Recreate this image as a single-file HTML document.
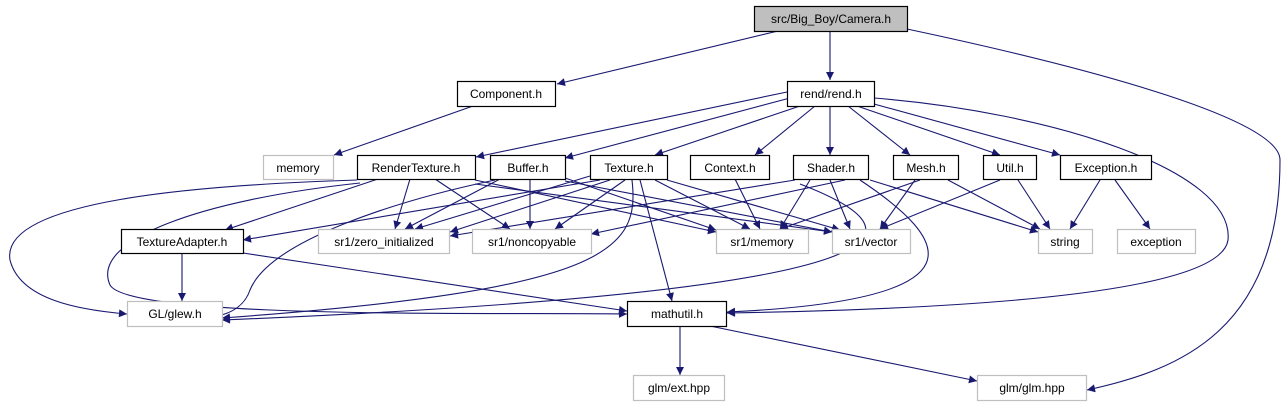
<!DOCTYPE html>
<html><head><meta charset="utf-8"><style>
html,body{margin:0;padding:0;background:#fff;}
svg{display:block;}
text{font-family:"Liberation Sans",Arial,sans-serif;font-size:12px;fill:#000;}
.n{fill:#fff;stroke:#000;stroke-width:1.2}
.g{fill:#fff;stroke:#bfbfbf;stroke-width:1.2}
.e{fill:none;stroke:#191970;stroke-width:1.1}
</style></head><body>
<svg width="1288" height="411" viewBox="0 0 1288 411">
<defs><marker id="a" viewBox="0 0 10 10" refX="10" refY="5" markerWidth="10" markerHeight="8" orient="auto" markerUnits="userSpaceOnUse"><path d="M0,0L10,5L0,10z" fill="#191970"/></marker></defs>
<g class="e" marker-end="url(#a)">
<path d="M778,31L557,84"/>
<path d="M830,31L830,80"/>
<path d="M907,29C1100,70 1280,120 1280,160 C1280,330 1180,370 1087,390"/>
<path d="M473,106L334,155"/>
<path d="M787,92L476,157"/>
<path d="M790,98L565,158"/>
<path d="M800,106L655,155"/>
<path d="M815,106L755,155"/>
<path d="M830,106L830,155"/>
<path d="M848,106L910,155"/>
<path d="M857,106L1000,155"/>
<path d="M874,104L1060,155"/>
<path d="M874,98C1050,112 1235,170 1228,240 C1220,300 900,310 727,313"/>
<path d="M378,179L225,230"/>
<path d="M410,179L395,229"/>
<path d="M435,179L510,229"/>
<path d="M475,180L716,232"/>
<path d="M475,184L832,232"/>
<path d="M357,180C200,185 0,200 10,260 C20,300 80,310 127,314"/>
<path d="M360,183C200,200 90,240 110,285 C130,320 500,312 627,314"/>
<path d="M500,179L405,229"/>
<path d="M530,179L530,229"/>
<path d="M565,178L716,230"/>
<path d="M565,181L832,232"/>
<path d="M495,180C400,200 270,240 250,290 C240,320 200,316 222,316"/>
<path d="M600,180L243,240"/>
<path d="M590,176L415,229"/>
<path d="M610,180L450,232"/>
<path d="M625,180L555,229"/>
<path d="M655,180L750,229"/>
<path d="M667,180L840,230"/>
<path d="M640,180L672,301"/>
<path d="M632,180C640,250 610,290 222,318"/>
<path d="M735,179L760,229"/>
<path d="M795,180L450,236"/>
<path d="M810,180L780,229"/>
<path d="M830,180L850,229"/>
<path d="M845,180L591,234"/>
<path d="M860,180C950,240 990,300 727,312"/>
<path d="M800,184C920,230 950,290 222,320"/>
<path d="M870,180L1038,232"/>
<path d="M920,180L780,229"/>
<path d="M915,180L880,229"/>
<path d="M948,180L1040,229"/>
<path d="M1000,180L880,229"/>
<path d="M1018,180L1050,229"/>
<path d="M1100,180L1070,229"/>
<path d="M1115,180L1150,229"/>
<path d="M182,254L182,301"/>
<path d="M243,253L627,311"/>
<path d="M680,326L680,375"/>
<path d="M710,326L977,381"/>
</g>
<g>
<rect x="754.5" y="6.5" width="153" height="25" fill="#bfbfbf" stroke="#000" stroke-width="1.2"/><text x="831" y="23" text-anchor="middle">src/Big_Boy/Camera.h</text>
<rect class="n" x="457.5" y="81.5" width="98" height="25"/><text x="506" y="98" text-anchor="middle">Component.h</text>
<rect class="n" x="787.5" y="81.5" width="87" height="25"/><text x="831" y="98" text-anchor="middle">rend/rend.h</text>
<rect class="g" x="263.5" y="155.5" width="70" height="24"/><text x="298" y="172" text-anchor="middle">memory</text>
<rect class="n" x="357.5" y="155.5" width="118" height="24"/><text x="416" y="172" text-anchor="middle">RenderTexture.h</text>
<rect class="n" x="490.5" y="155.5" width="75" height="24"/><text x="528" y="172" text-anchor="middle">Buffer.h</text>
<rect class="n" x="590.5" y="155.5" width="77" height="24"/><text x="629" y="172" text-anchor="middle">Texture.h</text>
<rect class="n" x="690.5" y="155.5" width="79" height="24"/><text x="730" y="172" text-anchor="middle">Context.h</text>
<rect class="n" x="793.5" y="155.5" width="75" height="24"/><text x="831" y="172" text-anchor="middle">Shader.h</text>
<rect class="n" x="893.5" y="155.5" width="65" height="24"/><text x="926" y="172" text-anchor="middle">Mesh.h</text>
<rect class="n" x="983.5" y="155.5" width="53" height="24"/><text x="1010" y="172" text-anchor="middle">Util.h</text>
<rect class="n" x="1060.5" y="155.5" width="91" height="24"/><text x="1106" y="172" text-anchor="middle">Exception.h</text>
<rect class="n" x="121.5" y="229.5" width="122" height="24"/><text x="182" y="246" text-anchor="middle">TextureAdapter.h</text>
<rect class="g" x="318.5" y="229.5" width="131" height="24"/><text x="384" y="246" text-anchor="middle">sr1/zero_initialized</text>
<rect class="g" x="472.5" y="229.5" width="119" height="24"/><text x="532" y="246" text-anchor="middle">sr1/noncopyable</text>
<rect class="g" x="716.5" y="229.5" width="92" height="24"/><text x="762" y="246" text-anchor="middle">sr1/memory</text>
<rect class="g" x="832.5" y="229.5" width="78" height="24"/><text x="871" y="246" text-anchor="middle">sr1/vector</text>
<rect class="g" x="1038.5" y="229.5" width="54" height="24"/><text x="1065" y="246" text-anchor="middle">string</text>
<rect class="g" x="1117.5" y="229.5" width="78" height="24"/><text x="1156" y="246" text-anchor="middle">exception</text>
<rect class="g" x="127.5" y="301.5" width="95" height="25"/><text x="175" y="318" text-anchor="middle">GL/glew.h</text>
<rect class="n" x="627.5" y="301.5" width="99" height="25"/><text x="677" y="318" text-anchor="middle">mathutil.h</text>
<rect class="g" x="633.5" y="375.5" width="91" height="25"/><text x="679" y="392" text-anchor="middle">glm/ext.hpp</text>
<rect class="g" x="977.5" y="375.5" width="109" height="25"/><text x="1032" y="392" text-anchor="middle">glm/glm.hpp</text>
</g>
</svg>
</body></html>
